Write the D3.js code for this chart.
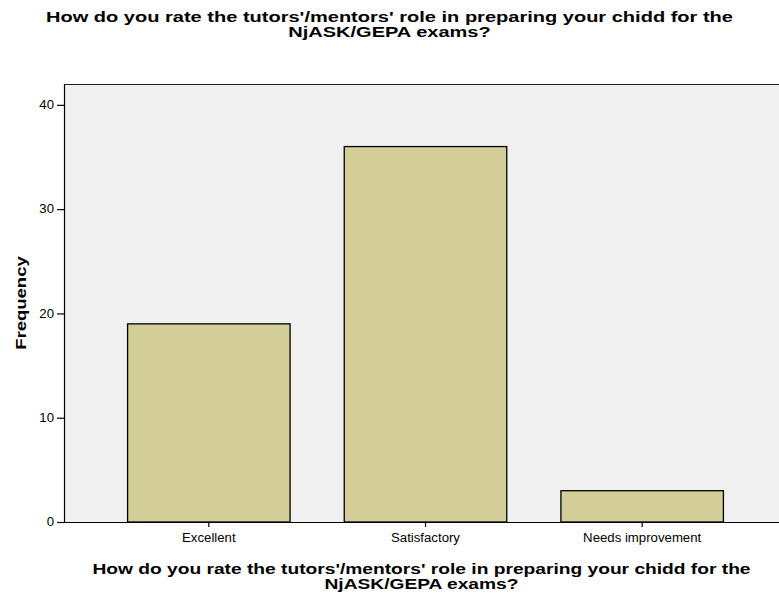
<!DOCTYPE html>
<html>
<head>
<meta charset="utf-8">
<script src="https://cdn.jsdelivr.net/npm/d3@7"></script>
<style>
  body { margin: 0; background: #fff; }
  text { font-family: Arial, "Liberation Sans", sans-serif; fill: #000; }
</style>
</head>
<body>
<div id="chart"></div>
<script>
const categories = ["Excellent", "Satisfactory", "Needs improvement"];
const frequencies = [19, 36, 3];
const yTicks = [0, 10, 20, 30, 40];
const titleLines = [
    "How do you rate the tutors'/mentors' role in preparing your chidd for the",
    "NjASK/GEPA exams?"
];
const yLabel = "Frequency";

const width = 779;
const height = 599;
const plot = { left: 64, top: 84, right: 779, bottom: 522 };
const fontFamily = "Arial, 'Liberation Sans', sans-serif";

const svg = d3.select("#chart")
    .append("svg")
    .attr("width", width)
    .attr("height", height);

const x = d3.scaleBand()
    .domain(categories)
    .range([100.5, 750.5])
    .paddingInner(0.25)
    .paddingOuter(0.125);

const y = d3.scaleLinear()
    .domain([0, 42])
    .range([plot.bottom, plot.top]);

// stretch text horizontally like the original export
function stretch(sel, sx) {
    sel.each(function () {
        const len = this.getComputedTextLength();
        d3.select(this).attr("textLength", len * sx).attr("lengthAdjust", "spacingAndGlyphs");
    });
}

// plot background
svg.append("rect")
    .attr("x", plot.left)
    .attr("y", plot.top)
    .attr("width", plot.right - plot.left)
    .attr("height", plot.bottom - plot.top)
    .attr("fill", "#f0f0f0");

svg.append("line")
    .attr("x1", plot.left).attr("x2", plot.right)
    .attr("y1", plot.top + 0.5).attr("y2", plot.top + 0.5)
    .attr("stroke", "#222").attr("stroke-width", 1.2);

// bars
svg.append("g")
    .selectAll("rect")
    .data(frequencies)
    .join("rect")
    .attr("x", (d, i) => x(categories[i]))
    .attr("y", d => y(d))
    .attr("width", x.bandwidth())
    .attr("height", d => y(0) - y(d))
    .attr("fill", "#d3ce98")
    .attr("stroke", "#000")
    .attr("stroke-width", 1.3);

// y axis
const yAxis = svg.append("g")
    .attr("transform", `translate(${plot.left},0)`)
    .call(d3.axisLeft(y).tickValues(yTicks).tickSize(7).tickPadding(3).tickSizeOuter(0));
yAxis.select(".domain").attr("stroke", "#000").attr("stroke-width", 1.2);
yAxis.selectAll(".tick line").attr("stroke", "#000").attr("stroke-width", 1.2);
yAxis.selectAll(".tick text").attr("font-size", 12).attr("font-family", fontFamily).call(stretch, 1.1);

// x axis
const xAxis = svg.append("g")
    .attr("transform", `translate(0,${plot.bottom})`)
    .call(d3.axisBottom(x).tickSize(5).tickPadding(6).tickSizeOuter(0));
xAxis.select(".domain")
    .attr("d", `M${plot.left},0.5H${plot.right}`)
    .attr("stroke", "#000").attr("stroke-width", 1.2);
xAxis.selectAll(".tick line").attr("stroke", "#000").attr("stroke-width", 1.2);
xAxis.selectAll(".tick text").attr("font-size", 12).attr("font-family", fontFamily).call(stretch, 1.1);

// top title
svg.append("g")
    .selectAll("text")
    .data(titleLines)
    .join("text")
    .attr("x", width / 2)
    .attr("y", (d, i) => 22 + i * 15)
    .attr("text-anchor", "middle")
    .attr("font-size", 14)
    .attr("font-weight", "bold")
    .text(d => d)
    .call(stretch, 1.43);

// x axis title
svg.append("g")
    .selectAll("text")
    .data(titleLines)
    .join("text")
    .attr("x", (plot.left + plot.right) / 2)
    .attr("y", (d, i) => 574 + i * 15)
    .attr("text-anchor", "middle")
    .attr("font-size", 14)
    .attr("font-weight", "bold")
    .text(d => d)
    .call(stretch, 1.37);

// y axis title
svg.append("text")
    .attr("transform", `translate(26,${(plot.top + plot.bottom) / 2}) rotate(-90)`)
    .attr("text-anchor", "middle")
    .attr("font-size", 15)
    .attr("font-weight", "bold")
    .text(yLabel)
    .call(stretch, 1.23);
</script>
</body>
</html>
